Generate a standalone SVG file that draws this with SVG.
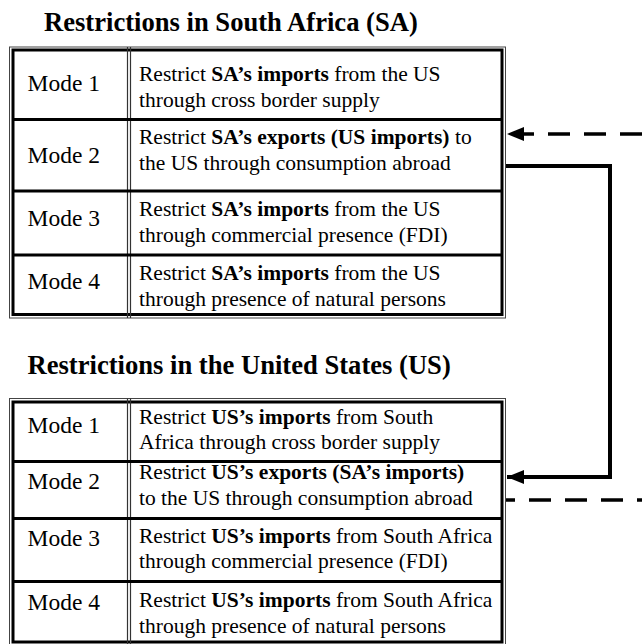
<svg xmlns="http://www.w3.org/2000/svg" width="642" height="644" viewBox="0 0 642 644">
<style>
.bg{fill:#fff}
.thin{fill:none;stroke:#444;stroke-width:1}
.thick{fill:none;stroke:#000;stroke-width:3}
.col{stroke:#333;stroke-width:1.2}
.div{stroke:#000;stroke-width:3}
.title{font-family:"Liberation Serif","Times New Roman",serif;font-weight:bold;font-size:26.6px;fill:#000}
.mode{font-family:"Liberation Serif","Times New Roman",serif;font-size:23.5px;fill:#000}
.body{font-family:"Liberation Serif","Times New Roman",serif;font-size:21.5px;fill:#000}
.b{font-weight:bold}
.conn{fill:none;stroke:#000;stroke-width:4}
.dash{fill:none;stroke:#000;stroke-width:3.5;stroke-dasharray:22 14}
</style>
<defs>
<marker id="arr" markerUnits="userSpaceOnUse" markerWidth="18" markerHeight="14" refX="17" refY="7" orient="auto">
<path d="M0,0 L17,7 L0,14 Z" fill="#000"/>
</marker>
</defs>
<rect class="bg" x="0" y="0" width="642" height="644"/>

<text class="title" x="44" y="31">Restrictions in South Africa (SA)</text>
<text class="title" x="27.5" y="374">Restrictions in the United States (US)</text>

<g id="sa-table">
<rect class="thin" x="9.5" y="47" width="496" height="271"/>
<rect class="thick" x="13" y="50" width="489" height="264.5"/>
<line class="col" x1="127.5" y1="47" x2="127.5" y2="318"/>
<line class="col" x1="130.5" y1="47" x2="130.5" y2="318"/>
<line class="div" x1="13" y1="119.5" x2="502" y2="119.5"/>
<line class="div" x1="13" y1="191" x2="502" y2="191"/>
<line class="div" x1="13" y1="255" x2="502" y2="255"/>
</g>

<g id="sa-mode1">
<text class="mode" x="27.5" y="91">Mode 1</text>
<text class="body" x="139" y="81">Restrict <tspan class="b">SA’s imports</tspan> from the US</text>
<text class="body" x="139" y="106.5">through cross border supply</text>
</g>
<g id="sa-mode2">
<text class="mode" x="27.5" y="163">Mode 2</text>
<text class="body" x="139" y="144">Restrict <tspan class="b">SA’s exports (US imports)</tspan> to</text>
<text class="body" x="139" y="170">the US through consumption abroad</text>
</g>
<g id="sa-mode3">
<text class="mode" x="27.5" y="225.5">Mode 3</text>
<text class="body" x="139" y="215.5">Restrict <tspan class="b">SA’s imports</tspan> from the US</text>
<text class="body" x="139" y="241.5">through commercial presence (FDI)</text>
</g>
<g id="sa-mode4">
<text class="mode" x="27.5" y="289">Mode 4</text>
<text class="body" x="139" y="279.5">Restrict <tspan class="b">SA’s imports</tspan> from the US</text>
<text class="body" x="139" y="305.5">through presence of natural persons</text>
</g>

<g id="us-table">
<rect class="thin" x="9.5" y="398.5" width="496" height="247"/>
<rect class="thick" x="13" y="402" width="489" height="240"/>
<line class="col" x1="127.5" y1="398.5" x2="127.5" y2="644"/>
<line class="col" x1="130.5" y1="398.5" x2="130.5" y2="644"/>
<line class="div" x1="13" y1="461.5" x2="502" y2="461.5"/>
<line class="div" x1="13" y1="518.5" x2="502" y2="518.5"/>
<line class="div" x1="13" y1="581.5" x2="502" y2="581.5"/>
</g>

<g id="us-mode1">
<text class="mode" x="27.5" y="433">Mode 1</text>
<text class="body" x="139" y="423.5">Restrict <tspan class="b">US’s imports</tspan> from South</text>
<text class="body" x="139" y="449">Africa through cross border supply</text>
</g>
<g id="us-mode2">
<text class="mode" x="27.5" y="488.5">Mode 2</text>
<text class="body" x="139" y="479">Restrict <tspan class="b">US’s exports (SA’s imports)</tspan></text>
<text class="body" x="139" y="504.5">to the US through consumption abroad</text>
</g>
<g id="us-mode3">
<text class="mode" x="27.5" y="546">Mode 3</text>
<text class="body" x="139" y="542.5">Restrict <tspan class="b">US’s imports</tspan> from South Africa</text>
<text class="body" x="139" y="568">through commercial presence (FDI)</text>
</g>
<g id="us-mode4">
<text class="mode" x="27.5" y="610">Mode 4</text>
<text class="body" x="139" y="606.5">Restrict <tspan class="b">US’s imports</tspan> from South Africa</text>
<text class="body" x="139" y="632.5">through presence of natural persons</text>
</g>

<g id="connectors">
<path class="dash" d="M642,134 H507" marker-end="url(#arr)"/>
<path class="conn" d="M506,166 H610 V477 H507" marker-end="url(#arr)"/>
<path class="dash" d="M506,500 H642" style="stroke-dashoffset:13"/>
</g>
</svg>
